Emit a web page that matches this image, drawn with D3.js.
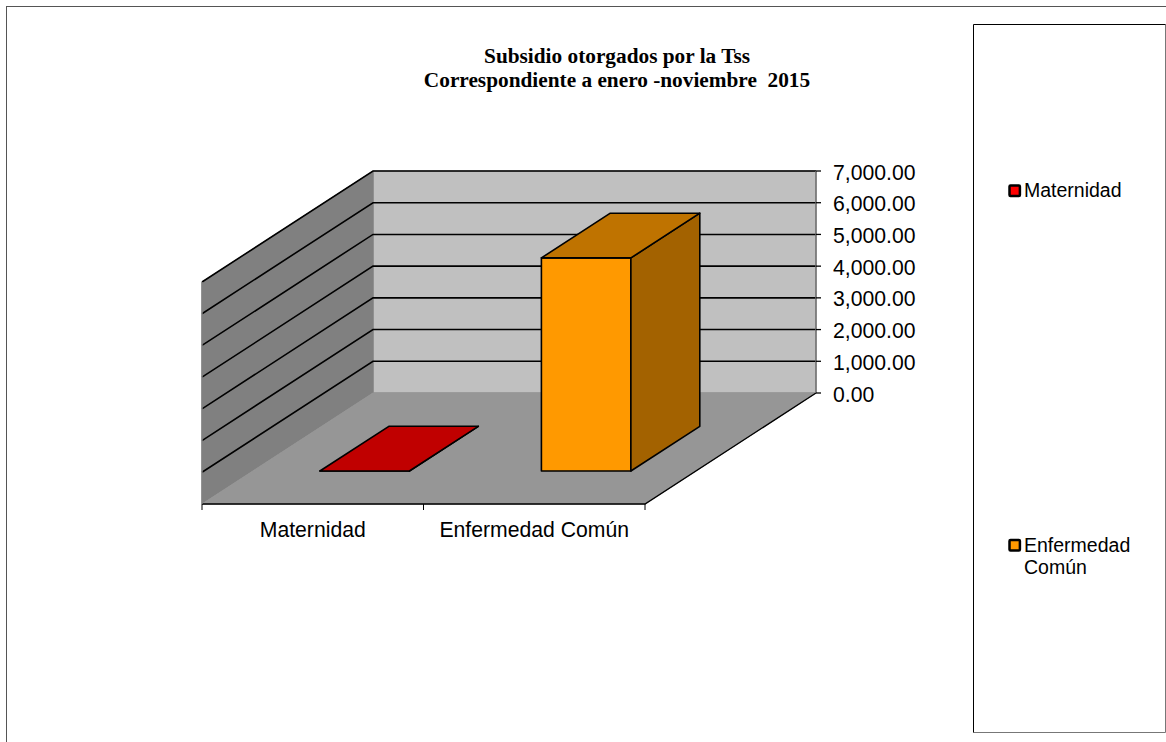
<!DOCTYPE html>
<html><head><meta charset="utf-8">
<script src="https://cdn.jsdelivr.net/npm/d3@7"></script>
<style>html,body{margin:0;padding:0;background:#fff;overflow:hidden}svg{display:block}</style>
</head><body><svg id="c" width="1166" height="742"></svg>
<script>
const categories = ["Maternidad", "Enfermedad Común"];
const values = [0, 6720];
const tickValues = [0, 1000, 2000, 3000, 4000, 5000, 6000, 7000];
const titleLines = ["Subsidio otorgados por la Tss", "Correspondiente a enero -noviembre  2015"];
const legendLines = [["Maternidad"], ["Enfermedad", "Común"]];
const frontColors = ["#c00000", "#ff9900"];
const topColors = ["#c00000", "#bf7300"];
const sideColors = ["#900000", "#a36200"];
const legendColors = ["#ff0000", "#ff9900"];

const svg = d3.select("#c");
const sans = "'Liberation Sans', Arial, sans-serif";
const serif = "'Liberation Serif', 'Times New Roman', serif";

// frame and legend box
svg.append("rect").attr("x",6.5).attr("y",6.5).attr("width",1170).attr("height",745)
  .attr("fill","#fff").attr("stroke","#555").attr("stroke-width",1);
svg.append("rect").attr("x",973.5).attr("y",24.5).attr("width",192).attr("height",708)
  .attr("fill","#fff").attr("stroke","none");
svg.append("path").attr("d","M973.5,732.5H1165.5V24.5").attr("fill","none").attr("stroke","#777");
svg.append("path").attr("d","M973.5,732.5V24.5H1165.5").attr("fill","none").attr("stroke","#000");

// title
svg.append("g").selectAll("text").data(titleLines).join("text")
  .attr("x",617).attr("y",(d,i)=>62.5+i*24.5).attr("text-anchor","middle")
  .attr("font-family",serif).attr("font-weight","bold").attr("font-size",21.3)
  .attr("fill","#000").style("white-space","pre").text(d=>d);

// oblique-projection scales
const x = d3.scaleBand().domain(categories).range([202,645]);
const y = d3.scaleLinear().domain([0,7000]).range([0,-222]);
const dz = d3.scaleLinear().domain([0,1]).range([0,171]);
const dzy = d3.scaleLinear().domain([0,1]).range([504,393]);
const P = (px,val,depth)=>[px+dz(depth), dzy(depth)+y(val)];
const poly = pts => "M"+pts.map(p=>p.join(",")).join("L")+"Z";
const x0 = x.range()[0], x1 = x.range()[1], vMax = tickValues[tickValues.length-1];

// walls and floor
svg.append("path").attr("d",poly([P(x0,0,1),P(x1,0,1),P(x1,vMax,1),P(x0,vMax,1)])).attr("fill","#c0c0c0").attr("stroke","#808080");
svg.append("path").attr("d",poly([P(x0,0,0),P(x0,0,1),P(x0,vMax,1),P(x0,vMax,0)])).attr("fill","#808080").attr("stroke","#808080");
svg.append("path").attr("d",poly([P(x0,0,0),P(x1,0,0),P(x1,0,1),P(x0,0,1)])).attr("fill","#969696").attr("stroke","#969696");

// gridlines
const line = d3.line();
const grid = svg.append("g").attr("fill","none").attr("stroke","#000").attr("stroke-width",1.6);
tickValues.filter(v=>v>0).forEach(v=>{
  grid.append("path").attr("d",line([P(x0,v,0),P(x0,v,1),P(x1,v,1)]));
});
// outer edges
const edge = svg.append("g").attr("fill","none").attr("stroke","#000").attr("stroke-width",1.4);
edge.append("path").attr("d",line([P(x0,0,0),P(x1,0,0),P(x1,0,1)]));
edge.append("path").attr("d",line([P(x1,0,1),P(x1,vMax,1)])).attr("stroke","#707070");
edge.append("path").attr("d",line([P(x0,0,0),P(x0,vMax,0)])).attr("stroke","#808080");

// value ticks and labels
const ticks = svg.append("g");
tickValues.forEach(v=>{
  const p = P(x1,v,1);
  ticks.append("line").attr("x1",p[0]).attr("x2",p[0]+5).attr("y1",p[1]).attr("y2",p[1]).attr("stroke","#000").attr("stroke-width",1.3);
  ticks.append("text").attr("x",p[0]+17).attr("y",p[1]+8.6).attr("font-family",sans).attr("font-size",21.2).attr("fill","#000")
    .text(d3.format(",.2f")(v));
});

// category ticks and labels
const catAxis = svg.append("g");
[x0, x0+x.bandwidth(), x1].forEach(px=>{
  catAxis.append("line").attr("x1",px).attr("x2",px).attr("y1",504).attr("y2",510).attr("stroke","#000");
});
categories.forEach(c=>{
  catAxis.append("text").attr("x",x(c)+x.bandwidth()/2).attr("y",537).attr("text-anchor","middle")
    .attr("font-family",sans).attr("font-size",21.2).attr("fill","#000").text(c);
});

// bars
const barD0 = 0.297, barD1 = 0.70, barStart = 0.303, barEnd = 0.707;
categories.forEach((c,i)=>{
  const a = x(c)+x.bandwidth()*barStart, b = x(c)+x.bandwidth()*barEnd;
  const v = values[i];
  const g = svg.append("g").attr("stroke","#000").attr("stroke-width",1.6).attr("stroke-linejoin","round");
  g.append("path").attr("d",poly([P(a,v,barD0),P(b,v,barD0),P(b,0,barD0),P(a,0,barD0)])).attr("fill",frontColors[i]);
  g.append("path").attr("d",poly([P(b,v,barD0),P(b,v,barD1),P(b,0,barD1),P(b,0,barD0)])).attr("fill",sideColors[i]);
  g.append("path").attr("d",poly([P(a,v,barD0),P(b,v,barD0),P(b,v,barD1),P(a,v,barD1)])).attr("fill",topColors[i]);
});

// legend
const legendY = [190.7, 545.3];
legendLines.forEach((lines,i)=>{
  svg.append("rect").attr("x",1009.5).attr("y",legendY[i]-5.2).attr("width",10.4).attr("height",10.4)
    .attr("fill",legendColors[i]).attr("stroke","#000").attr("stroke-width",2.5).attr("rx",1);
  lines.forEach((t,j)=>{
    svg.append("text").attr("x",1024).attr("y",legendY[i]+6.2+j*22.7).attr("font-family",sans).attr("font-size",19.5).attr("fill","#000").text(t);
  });
});
</script></body></html>
